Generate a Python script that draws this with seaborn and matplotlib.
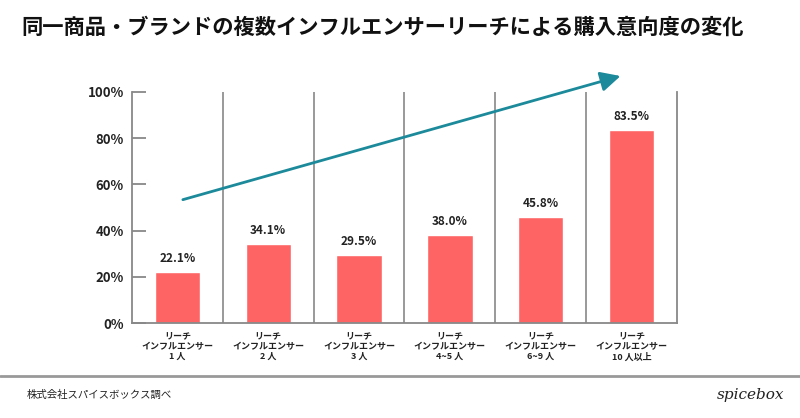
import pandas as pd
import seaborn as sns
import matplotlib.pyplot as plt
from matplotlib.lines import Line2D

# data
categories = ['リーチ\nインフルエンサー\n1 人', 'リーチ\nインフルエンサー\n2 人', 'リーチ\nインフルエンサー\n3 人',
              'リーチ\nインフルエンサー\n4~5 人', 'リーチ\nインフルエンサー\n6~9 人', 'リーチ\nインフルエンサー\n10 人以上']
values = [22.1, 34.1, 29.5, 38.0, 45.8, 83.5]
y_ticks = [0, 20, 40, 60, 80, 100]
trend_start = (0.06, 53.4)
trend_end = (4.88, 106.9)

sns.set_style('white')
plt.rcParams['font.family'] = ['Noto Sans CJK JP', 'DejaVu Sans']

df = pd.DataFrame({'cat': categories, 'val': values})

fig = plt.figure(figsize=(8, 4.18), dpi=100)
ax = fig.add_axes([0.165, 0.227, 0.681, 0.553])
sns.barplot(data=df, x='cat', y='val', color='#ff6464', saturation=1, width=0.5, ax=ax)

ax.set_xlim(-0.5, len(categories) - 0.5)
ax.set_ylim(0, 100)
ax.set_yticks(y_ticks)
ax.set_yticklabels([f'{t}%' for t in y_ticks], fontsize=9.5, fontweight='semibold', color='#222')
ax.tick_params(axis='y', direction='in', length=10, width=1.3, color='#888', pad=6, left=True)
ax.tick_params(axis='x', length=0, pad=6)
for lab in ax.get_xticklabels():
    lab.set_fontsize(6.5)
    lab.set_fontweight('bold')
    lab.set_linespacing(1.2)
    lab.set_color('#222')
ax.set_xlabel('')
ax.set_ylabel('')

# separators between groups
for i in range(len(categories) - 1):
    ax.axvline(i + 0.5, color='#888', lw=1.2, zorder=0)
ax.spines['top'].set_visible(False)
for side in ['left', 'right', 'bottom']:
    ax.spines[side].set_color('#888')
    ax.spines[side].set_linewidth(1.3)

# value labels
for i, v in enumerate(values):
    ax.text(i, v + 3, f'{v:.1f}%', ha='center', va='bottom', fontsize=8.5, fontweight='semibold', color='#222')

# trend arrow
ax.annotate('', xy=trend_end, xytext=trend_start, annotation_clip=False,
            arrowprops=dict(arrowstyle='-|>', mutation_scale=30, lw=2, color='#1c8a9a',
                            shrinkA=0, shrinkB=0))

fig.text(0.027, 0.935, '同一商品・ブランドの複数インフルエンサーリーチによる購入意向度の変化',
         fontsize=15.3, fontweight='bold', color='#111', va='center')

fig.add_artist(Line2D([0, 1], [0.100, 0.100], color='#999', lw=2, transform=fig.transFigure))
fig.text(0.033, 0.055, '株式会社スパイスボックス調べ', fontsize=7.5, color='#222', va='center')
fig.text(0.98, 0.055, 'spicebox', fontsize=11, style='italic', family='DejaVu Serif',
         color='#222', va='center', ha='right')

fig.savefig('out.png', dpi=100)
